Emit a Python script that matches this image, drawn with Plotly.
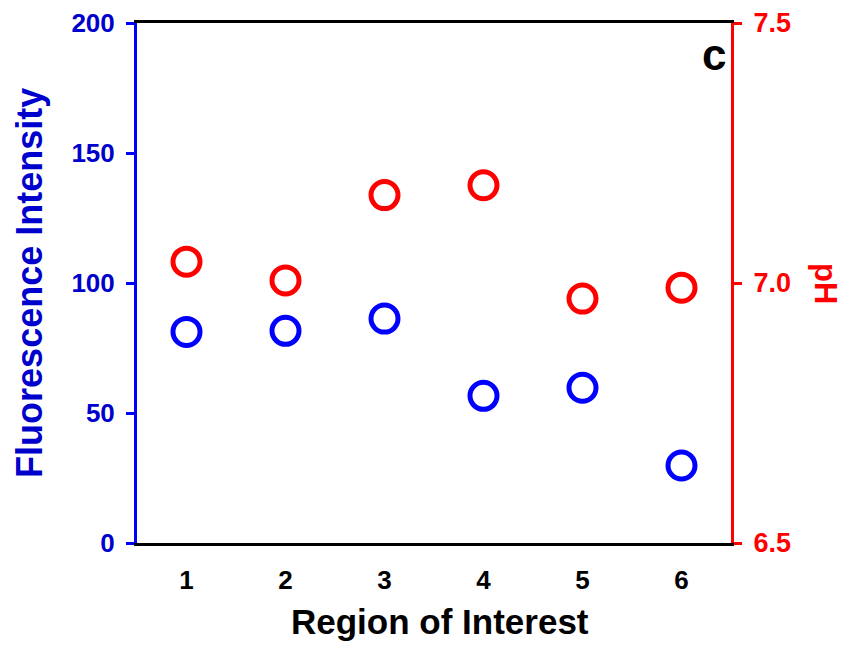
import plotly.graph_objects as go

regions = [1, 2, 3, 4, 5, 6]
fluorescence = [81.2, 81.6, 86.3, 56.6, 59.7, 29.8]
ph_values = [7.041, 7.005, 7.169, 7.188, 6.970, 6.991]
x_ticks = [1, 2, 3, 4, 5, 6]
y_ticks = [0, 50, 100, 150, 200]
y2_ticks = [6.5, 7.0, 7.5]
y2_labels = ["6.5", "7.0", "7.5"]

FONT = "Liberation Sans, Arial, sans-serif"
BLUE = "#0000FF"
BLUE_TXT = "#0000CC"
RED = "#FF0000"

fig = go.Figure()
fig.add_trace(go.Scatter(
    x=regions, y=fluorescence, mode="markers",
    marker=dict(symbol="circle-open", size=27, line=dict(width=5, color=BLUE), color=BLUE),
    yaxis="y", showlegend=False, cliponaxis=False))
fig.add_trace(go.Scatter(
    x=regions, y=ph_values, mode="markers",
    marker=dict(symbol="circle-open", size=27, line=dict(width=5, color=RED), color=RED),
    yaxis="y2", showlegend=False, cliponaxis=False))

fig.update_layout(
    width=846, height=647,
    margin=dict(l=137, r=115, t=23, b=104, autoexpand=False),
    paper_bgcolor="white", plot_bgcolor="white",
    font=dict(family=FONT),
    xaxis=dict(range=[0.5, 6.5], tickvals=x_ticks, ticktext=[str(v) for v in x_ticks],
               showgrid=False, zeroline=False, showline=True, linecolor="black", linewidth=3,
               mirror=True, ticks="", ticklabelstandoff=12, automargin=False,
               tickfont=dict(size=26, color="black", family=FONT, weight="bold")),
    yaxis=dict(range=[0, 200], tickvals=y_ticks, showgrid=False, zeroline=False,
               showline=True, linecolor=BLUE, linewidth=3, ticks="outside", ticklen=8,
               tickwidth=3, tickcolor=BLUE, ticklabelstandoff=6, automargin=False,
               tickfont=dict(size=26, color=BLUE_TXT, family=FONT, weight="bold")),
    yaxis2=dict(range=[6.5, 7.5], tickvals=y2_ticks, ticktext=y2_labels, overlaying="y",
                side="right", showgrid=False, zeroline=False, showline=True, linecolor=RED,
                linewidth=3, ticks="outside", ticklen=8, tickwidth=3, tickcolor=RED,
                ticklabelstandoff=6, automargin=False,
                tickfont=dict(size=27, color=RED, family=FONT, weight="bold")),
    annotations=[
        dict(text="<b>Region of Interest</b>", xref="paper", yref="paper", x=0.51, y=-0.15,
             xanchor="center", yanchor="middle", showarrow=False,
             font=dict(size=35, color="black", family=FONT)),
        dict(text="<b>Fluorescence Intensity</b>", xref="paper", yref="paper", x=-0.182, y=0.50,
             xanchor="center", yanchor="middle", showarrow=False, textangle=-90,
             font=dict(size=36, color=BLUE_TXT, family=FONT)),
        dict(text="<b>pH</b>", xref="paper", yref="paper", x=1.16, y=0.50,
             xanchor="center", yanchor="middle", showarrow=False, textangle=90,
             font=dict(size=31, color=RED, family=FONT)),
        dict(text="<b>c</b>", xref="paper", yref="paper", x=0.972, y=0.94,
             xanchor="center", yanchor="middle", showarrow=False,
             font=dict(size=44, color="black", family=FONT)),
    ],
)

fig.write_html("out.html")
